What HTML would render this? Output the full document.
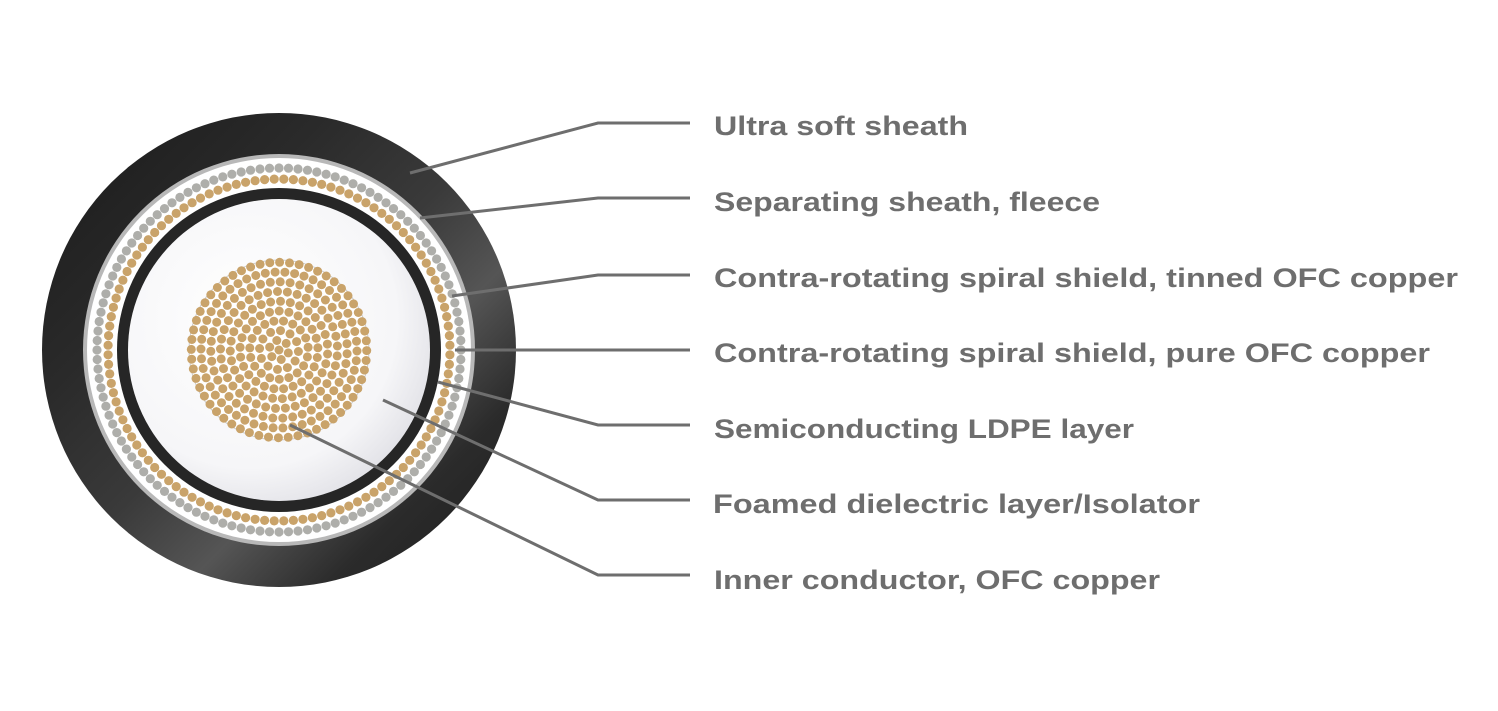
<!DOCTYPE html>
<html><head><meta charset="utf-8"><style>
html,body{margin:0;padding:0;background:#fff;}
svg{display:block}
text{font-family:"Liberation Sans",sans-serif;font-weight:bold;font-size:27px;fill:#6e6e6e;}
</style></head><body>
<svg id="s" width="1498" height="711" viewBox="0 0 1498 711" xmlns="http://www.w3.org/2000/svg">
<defs>
<linearGradient id="blk" x1="0" y1="0" x2="1" y2="1">
<stop offset="0" stop-color="#1a1a1a"/><stop offset="0.3" stop-color="#2a2a2a"/>
<stop offset="0.5" stop-color="#3a3a3a"/><stop offset="0.65" stop-color="#555"/>
<stop offset="0.8" stop-color="#2b2b2b"/><stop offset="1" stop-color="#1c1c1c"/>
</linearGradient>
<radialGradient id="wht" cx="0.4" cy="0.4" r="0.7">
<stop offset="0" stop-color="#ffffff"/><stop offset="0.7" stop-color="#f6f6f8"/><stop offset="1" stop-color="#dcdce2"/>
</radialGradient>
</defs>
<circle cx="279" cy="350" r="237" fill="url(#blk)"/>
<circle cx="279" cy="350" r="196" fill="#b8b8b8"/>
<circle cx="279" cy="350" r="192" fill="#ffffff"/>
<g id="rings"></g>
<circle cx="279" cy="350" r="162" fill="#262626"/>
<circle cx="279" cy="350" r="151" fill="url(#wht)"/>
<circle cx="279" cy="350" r="90" fill="#fff" stroke="#ccc" stroke-width="1"/>
<g id="core"></g>
<g stroke="#6e6e6e" stroke-width="3" fill="none">
<polyline points="410,173 598,123 690,123"/>
<polyline points="420,218 598,198 690,198"/>
<polyline points="452,296 598,275 690,275"/>
<polyline points="455,350 690,350"/>
<polyline points="438,382 598,425 690,425"/>
<polyline points="383,400 598,500 690,500"/>
<polyline points="290,425 598,575 690,575"/>
</g>
<text x="714" y="135" textLength="254" lengthAdjust="spacingAndGlyphs">Ultra soft sheath</text>
<text x="714" y="211" textLength="386" lengthAdjust="spacingAndGlyphs">Separating sheath, fleece</text>
<text x="714" y="287" textLength="744" lengthAdjust="spacingAndGlyphs">Contra-rotating spiral shield, tinned OFC copper</text>
<text x="714" y="362" textLength="716" lengthAdjust="spacingAndGlyphs">Contra-rotating spiral shield, pure OFC copper</text>
<text x="714" y="438" textLength="420" lengthAdjust="spacingAndGlyphs">Semiconducting LDPE layer</text>
<text x="713" y="513" textLength="487" lengthAdjust="spacingAndGlyphs">Foamed dielectric layer/Isolator</text>
<text x="714" y="589" textLength="446" lengthAdjust="spacingAndGlyphs">Inner conductor, OFC copper</text>
</svg>
<script>
(function(){
var NS="http://www.w3.org/2000/svg",cx=279,cy=350;
function dot(g,x,y,r,c){var e=document.createElementNS(NS,"circle");e.setAttribute("cx",x.toFixed(1));e.setAttribute("cy",y.toFixed(1));e.setAttribute("r",r);e.setAttribute("fill",c);g.appendChild(e);}
var rg=document.getElementById("rings");
var n1=120;for(var i=0;i<n1;i++){var a=2*Math.PI*i/n1;dot(rg,cx+182*Math.cos(a),cy+182*Math.sin(a),4.6,"#aeaeaa");}
var n2=112;for(var i=0;i<n2;i++){var a=2*Math.PI*(i+0.5)/n2;dot(rg,cx+171*Math.cos(a),cy+171*Math.sin(a),4.6,"#c9a36a");}
var cg=document.getElementById("core");
dot(cg,cx,cy,4.5,"#c9a36a");
for(var k=1;k<=9;k++){var r=k*9.75,n=Math.round(2*Math.PI*r/9.9);for(var i=0;i<n;i++){var a=2*Math.PI*i/n+k*0.3;dot(cg,cx+r*Math.cos(a),cy+r*Math.sin(a),4.5,"#c9a36a");}}
})();
</script>
</body></html>
